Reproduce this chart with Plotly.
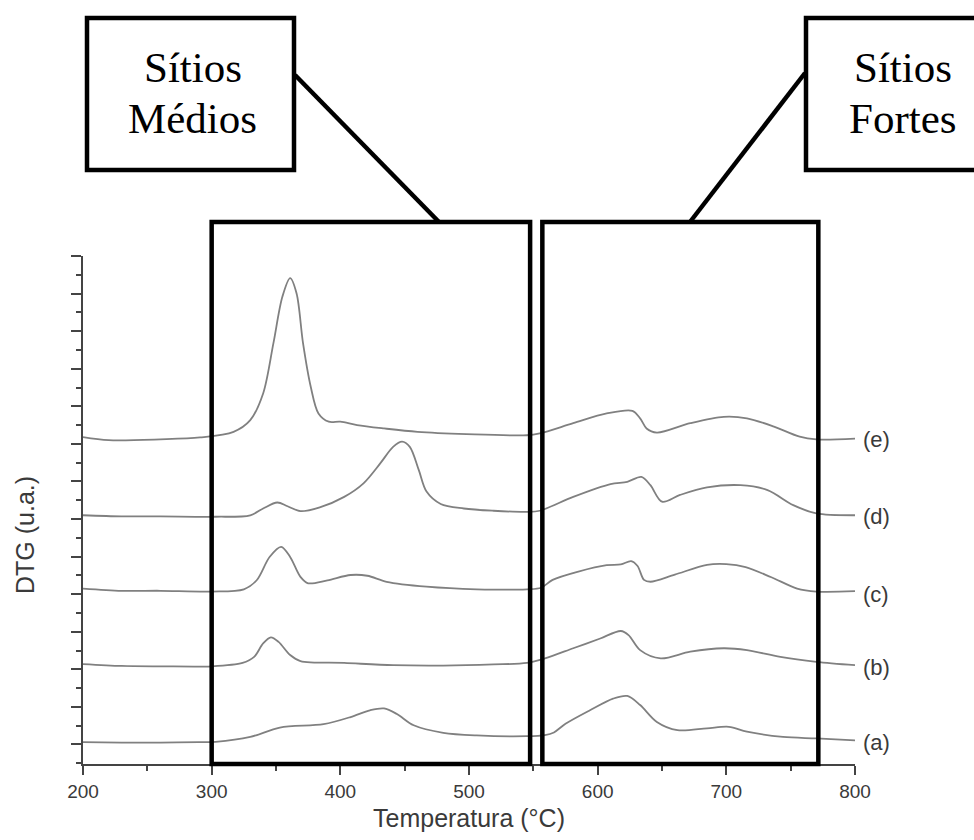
import plotly.graph_objects as go

# ---------------- data ----------------
temp_a = [200, 230, 260, 290, 303, 330, 353, 387, 408, 423, 434, 444, 457, 480, 506, 545,
          559, 566, 575, 594, 612, 623, 633, 646, 662, 685, 702, 716, 744, 770, 800]
dtg_a = [0.06, 0.05, 0.05, 0.06, 0.07, 0.20, 0.45, 0.54, 0.73, 0.91, 0.96, 0.81, 0.51, 0.31, 0.24, 0.22,
         0.25, 0.32, 0.55, 0.91, 1.22, 1.29, 1.05, 0.60, 0.38, 0.43, 0.47, 0.34, 0.20, 0.16, 0.11]

temp_b = [200, 230, 260, 300, 324, 333, 340, 346, 352, 361, 369, 403, 441, 480, 519, 545,
          559, 581, 602, 618, 624, 633, 649, 672, 698, 716, 742, 770, 800]
dtg_b = [2.14, 2.09, 2.08, 2.08, 2.17, 2.33, 2.69, 2.85, 2.73, 2.38, 2.22, 2.17, 2.11, 2.10, 2.13, 2.17,
         2.29, 2.56, 2.82, 3.02, 2.91, 2.51, 2.29, 2.47, 2.56, 2.51, 2.33, 2.20, 2.11]

temp_c = [200, 230, 260, 300, 325, 335, 345, 354, 361, 369, 375, 390, 408, 421, 436, 467, 506, 545,
          556, 565, 585, 607, 618, 626, 631, 636, 641, 660, 685, 700, 715, 735, 755, 770, 800]
dtg_c = [4.15, 4.09, 4.09, 4.07, 4.13, 4.37, 4.99, 5.26, 4.99, 4.46, 4.29, 4.37, 4.51, 4.49, 4.33, 4.20, 4.13, 4.13,
         4.17, 4.38, 4.60, 4.77, 4.79, 4.88, 4.75, 4.38, 4.33, 4.52, 4.78, 4.80, 4.72, 4.45, 4.15, 4.07, 4.08]

temp_d = [200, 230, 260, 303, 330, 340, 351, 359, 369, 384, 403, 418, 431, 441, 448, 454, 461, 467, 478, 496, 519, 545,
          555, 581, 610, 623, 634, 641, 650, 664, 685, 711, 732, 752, 770, 800]
dtg_d = [6.10, 6.07, 6.07, 6.06, 6.10, 6.28, 6.44, 6.34, 6.21, 6.31, 6.59, 6.95, 7.48, 7.92, 8.06, 7.92, 7.30, 6.73, 6.40, 6.28, 6.22, 6.19,
         6.22, 6.59, 6.93, 6.99, 7.12, 6.90, 6.46, 6.64, 6.84, 6.90, 6.77, 6.37, 6.15, 6.10]

temp_e = [200, 220, 260, 291, 317, 330, 340, 348, 355, 361, 366, 371, 377, 383, 391, 400, 413, 434, 460, 498, 545,
          555, 581, 607, 627, 633, 638, 646, 672, 698, 716, 737, 757, 770, 800]
dtg_e = [8.18, 8.10, 8.12, 8.17, 8.32, 8.63, 9.34, 10.68, 11.92, 12.41, 12.00, 10.68, 9.52, 8.81, 8.59, 8.59, 8.50, 8.41, 8.32, 8.26, 8.23,
         8.28, 8.55, 8.81, 8.88, 8.68, 8.41, 8.30, 8.55, 8.72, 8.68, 8.46, 8.19, 8.12, 8.14]

series_labels = ["(a)", "(b)", "(c)", "(d)", "(e)"]
series_temps = [temp_a, temp_b, temp_c, temp_d, temp_e]
series_dtg = [dtg_a, dtg_b, dtg_c, dtg_d, dtg_e]
label_levels = [0.04, 2.05, 4.00, 6.07, 8.12]

x_ticks = [200, 300, 400, 500, 600, 700, 800]
box_medios = (300, 547.5)   # temperature span of "Sítios Médios"
box_fortes = (557, 771.5)   # temperature span of "Sítios Fortes"

# ---------------- layout geometry ----------------
W, H = 974, 840
L, R, T, B = 83, 119, 256, 76
PW, PH = W - L - R, H - T - B
X_RANGE = [200, 800]


def pxx(px):
    return (px - L) / PW


def pxy(py):
    return (H - B - py) / PH


def tx(t):
    return (t - X_RANGE[0]) / (X_RANGE[1] - X_RANGE[0])


fig = go.Figure()
for lab, xs, ys in zip(series_labels, series_temps, series_dtg):
    fig.add_trace(go.Scatter(x=xs, y=ys, mode="lines", name=lab,
                             line=dict(color="#808080", width=1.8, shape="spline", smoothing=0.9),
                             showlegend=False, hoverinfo="skip"))

axis_col = "#444444"
tick_font = dict(family="Arial, 'Liberation Sans', sans-serif", size=19, color="#3a3a3a")

fig.update_xaxes(range=X_RANGE, tickvals=x_ticks, ticktext=[str(v) for v in x_ticks],
                 showgrid=False, zeroline=False, showline=True, linecolor=axis_col, linewidth=2,
                 ticks="outside", ticklen=9, tickwidth=2, tickcolor=axis_col, tickfont=tick_font,
                 minor=dict(tickvals=[250, 350, 450, 550, 650, 750], ticks="outside", ticklen=5,
                            tickwidth=2, tickcolor=axis_col))
fig.update_yaxes(range=[-0.52, 13], tick0=0, dtick=1, showticklabels=False,
                 showgrid=False, zeroline=False, showline=True, linecolor=axis_col, linewidth=2,
                 ticks="outside", ticklen=10, tickwidth=2, tickcolor=axis_col,
                 minor=dict(dtick=0.5, ticks="outside", ticklen=5, tickwidth=2, tickcolor=axis_col))

shapes = []
blk = dict(color="black", width=4.5)
top_y = pxy(222)
for (t0, t1) in (box_medios, box_fortes):
    shapes.append(dict(type="rect", xref="paper", yref="paper", x0=tx(t0), x1=tx(t1),
                       y0=0, y1=top_y, line=blk, layer="above"))
# callout boxes
shapes.append(dict(type="rect", xref="paper", yref="paper", x0=pxx(87), x1=pxx(294),
                   y0=pxy(170), y1=pxy(18), line=blk, fillcolor="white", layer="above"))
shapes.append(dict(type="rect", xref="paper", yref="paper", x0=pxx(806), x1=pxx(990),
                   y0=pxy(170), y1=pxy(18), line=blk, fillcolor="white", layer="above"))
# connector lines
shapes.append(dict(type="line", xref="paper", yref="paper", x0=pxx(295), y0=pxy(75),
                   x1=pxx(439), y1=top_y, line=blk, layer="above"))
shapes.append(dict(type="line", xref="paper", yref="paper", x0=pxx(805), y0=pxy(73),
                   x1=pxx(690), y1=top_y, line=blk, layer="above"))

serif = dict(family="'Liberation Serif', 'Times New Roman', serif", size=43, color="black")
ann = []
for text, cx, cy in (("Sítios", 192.5, 67), ("Médios", 192.5, 118),
                     ("Sítios", 902.5, 67), ("Fortes", 902.5, 118)):
    ann.append(dict(text=text, xref="paper", yref="paper", x=pxx(cx), y=pxy(cy),
                    xanchor="center", yanchor="middle", showarrow=False, font=serif))

lab_font = dict(family="Arial, 'Liberation Sans', sans-serif", size=22, color="#3a3a3a")
for lab, lvl in zip(series_labels, label_levels):
    ann.append(dict(text=lab, xref="paper", yref="y", x=pxx(861), y=lvl,
                    xanchor="left", yanchor="middle", showarrow=False, font=lab_font))

title_font = dict(family="Arial, 'Liberation Sans', sans-serif", size=25, color="#3a3a3a")
ann.append(dict(text="Temperatura (°C)", xref="paper", yref="paper", x=pxx(469), y=pxy(818),
                xanchor="center", yanchor="middle", showarrow=False, font=title_font))
ann.append(dict(text="DTG (u.a.)", xref="paper", yref="paper", x=pxx(25), y=pxy(535),
                xanchor="center", yanchor="middle", showarrow=False, font=title_font, textangle=-90))

fig.update_layout(width=W, height=H, margin=dict(l=L, r=R, t=T, b=B, autoexpand=False),
                  plot_bgcolor="white", paper_bgcolor="white",
                  shapes=shapes, annotations=ann, showlegend=False)

fig.write_html("out.html", config={"displayModeBar": False})
